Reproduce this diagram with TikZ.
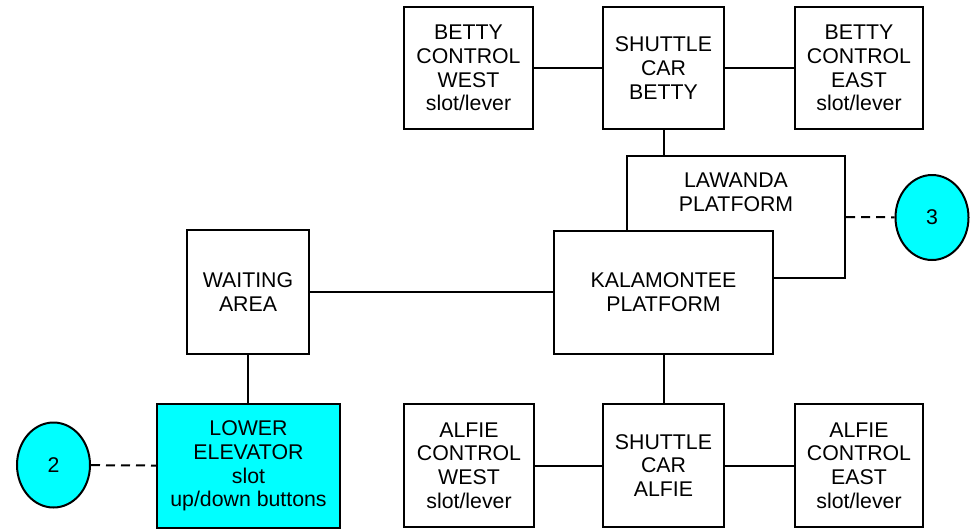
\documentclass[tikz,border=0pt]{standalone}
\usepackage{fontspec}
\setmainfont{Liberation Sans}
\usetikzlibrary{shapes.geometric}
\definecolor{cyanfill}{RGB}{0,255,255}
\begin{document}
\begin{tikzpicture}[x=1pt,y=-1pt,
 txt/.style={align=center, inner sep=0pt, font=\fontsize{21.3}{23.6}\selectfont},
 box/.style={txt, draw, line width=2pt, fill=white},
 conn/.style={line width=2pt},
 dconn/.style={line width=2pt, dash pattern=on 9pt off 6pt},
 circ/.style={txt, ellipse, draw, line width=2pt, fill=cyanfill, minimum width=73pt, minimum height=85pt}]
\useasboundingbox (0,0) rectangle (973,528);

% top row
\node[box, minimum width=129pt, minimum height=122pt] (bcw) at (468.5,68) {BETTY\\CONTROL\\WEST\\slot/lever};
\node[box, minimum width=121pt, minimum height=122pt] (scb) at (663.5,68) {SHUTTLE\\CAR\\BETTY};
\node[box, minimum width=128pt, minimum height=122pt] (bce) at (859,68) {BETTY\\CONTROL\\EAST\\slot/lever};

% platforms
\node[box, minimum width=218pt, minimum height=122pt] (law) at (736,217) {};
\node[txt] (lawt) at (736,192) {LAWANDA\\PLATFORM};
\draw[conn] (scb.south) -- (scb.south |- law.north);
\node[box, minimum width=219pt, minimum height=123pt] (kal) at (663.5,292) {KALAMONTEE\\PLATFORM};

% left
\node[box, minimum width=122pt, minimum height=124pt] (wait) at (248,292) {WAITING\\AREA};
\node[box, fill=cyanfill, minimum width=183pt, minimum height=124pt] (elev) at (248.5,466) {LOWER\\ELEVATOR\\slot\\up/down buttons};

% bottom row
\node[box, minimum width=130pt, minimum height=123pt] (acw) at (469,465.5) {ALFIE\\CONTROL\\WEST\\slot/lever};
\node[box, minimum width=121pt, minimum height=123pt] (sca) at (663.5,465.5) {SHUTTLE\\CAR\\ALFIE};
\node[box, minimum width=128pt, minimum height=123pt] (ace) at (859,465.5) {ALFIE\\CONTROL\\EAST\\slot/lever};

% circles
\node[circ] (c2) at (53.5,465) {2};
\node[circ] (c3) at (932,217.5) {3};

% connectors
\draw[conn] (bcw) -- (scb);
\draw[conn] (scb) -- (bce);
\draw[conn] (wait) -- (kal);
\draw[conn] (wait.south) -- (wait.south |- elev.north);
\draw[conn] (kal.south) -- (kal.south |- sca.north);
\draw[conn] (acw) -- (sca);
\draw[conn] (sca) -- (ace);
\draw[dconn] (c2) -- (elev);
\draw[dconn] (law.east) -- (c3);
\end{tikzpicture}
\end{document}
